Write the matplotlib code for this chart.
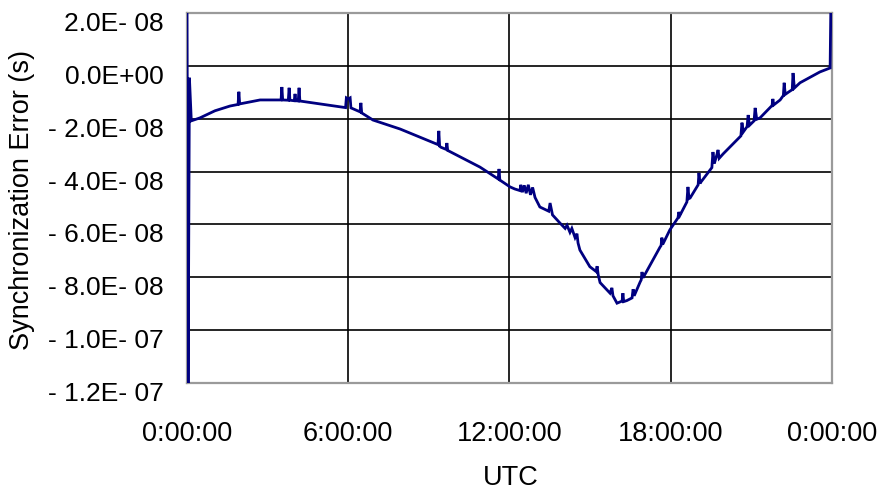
import matplotlib
matplotlib.use("Agg")
import matplotlib.pyplot as plt
import matplotlib.transforms as mtransforms
from matplotlib.ticker import FuncFormatter

plt.rcParams["font.family"] = ["Liberation Sans", "DejaVu Sans"]

# Synchronization error trace over one UTC day (hours, nanoseconds)
time_h = [
    0.00, 0.04, 0.09, 0.16, 0.48, 1.04, 1.60,
    1.90, 1.93, 1.96, 2.16, 2.72,
    3.50, 3.53, 3.56, 3.77, 3.80, 3.83, 3.99, 4.02, 4.05, 4.14, 4.17, 4.20,
    4.95, 5.90, 5.93, 6.00, 6.07, 6.10,
    6.44, 6.47, 6.50, 6.92, 7.93,
    9.34, 9.37, 9.40, 9.45, 9.64, 9.67, 9.70, 10.90,
    11.58, 11.61, 11.64, 12.02, 12.20,
    12.39, 12.42, 12.48, 12.55, 12.62, 12.70, 12.78, 12.86, 12.95,
    13.13, 13.46, 13.51, 13.60, 13.88,
    14.07, 14.14, 14.25, 14.32, 14.44, 14.51, 14.55, 14.62, 14.99,
    15.22, 15.26, 15.30, 15.37, 15.74, 15.81, 15.85, 16.00,
    16.19, 16.22, 16.25, 16.37, 16.56, 16.60, 16.64, 16.86,
    16.90, 16.93, 16.97, 17.23, 17.60, 17.64, 17.67, 17.70, 17.97,
    18.27, 18.30, 18.34, 18.60, 18.64, 18.68, 18.72,
    19.02, 19.05, 19.09, 19.12, 19.46,
    19.53, 19.57, 19.62, 19.72, 19.76, 19.80, 19.95,
    20.57, 20.61, 20.65, 20.70, 20.84, 20.88, 20.93, 21.10, 21.14, 21.20, 21.32,
    21.77, 21.80, 21.83, 22.07, 22.19, 22.22, 22.26, 22.40,
    22.52, 22.55, 22.60, 22.81, 23.55, 23.93, 23.96,
]
error_ns = [
    25.0, -125.0, -4.5, -20.8, -19.7, -17.0, -15.2,
    -14.6, -9.8, -14.4, -14.0, -12.9,
    -12.9, -8.0, -12.9, -13.0, -8.3, -13.0, -13.2, -10.6, -13.2, -13.3, -8.3, -13.3,
    -14.4, -15.8, -12.1, -12.5, -12.1, -15.9,
    -17.4, -14.0, -17.8, -20.5, -23.9,
    -29.8, -24.6, -30.4, -30.8, -31.6, -29.2, -32.0, -38.3,
    -42.8, -39.0, -43.2, -45.8, -46.6,
    -47.2, -45.0, -47.8, -45.2, -48.2, -45.0, -48.8, -46.0, -49.8,
    -53.4, -55.0, -51.9, -56.4, -59.5,
    -61.5, -60.3, -63.0, -61.5, -65.0, -63.5, -67.0, -69.7, -76.0,
    -77.8, -75.8, -79.0, -82.0, -86.0, -84.0, -87.0, -89.8,
    -89.0, -86.0, -89.2, -88.8, -87.8, -84.5, -87.0, -81.8,
    -81.0, -78.0, -80.2, -75.4, -68.6, -68.0, -65.0, -67.6, -62.0,
    -57.5, -55.3, -56.6, -51.5, -45.8, -50.2, -50.0,
    -45.0, -40.5, -44.5, -44.0, -39.4,
    -38.5, -32.6, -37.0, -33.5, -31.8, -35.0, -33.3,
    -26.9, -26.5, -21.5, -25.0, -23.0, -18.6, -22.5, -20.8, -15.9, -20.2, -19.7,
    -15.0, -12.5, -14.8, -12.9, -11.2, -6.4, -10.8, -9.8,
    -9.0, -2.7, -8.4, -6.4, -2.3, -0.8, 25.0,
]

x_ticks = [0, 6, 12, 18, 24]
y_ticks = [2e-8, 0.0, -2e-8, -4e-8, -6e-8, -8e-8, -1e-7, -1.2e-7]
y_min, y_max = -1.2e-7, 2.0e-8


def sci_label(v, pos):
    if abs(v) < 1e-15:
        return "0.0E+00"
    return f"{v:.1E}".replace("-", "- ")


def utc_label(h, pos):
    return f"{int(round(h)) % 24}:00:00"


fig = plt.figure(figsize=(8.79, 4.94), dpi=100)
ax = fig.add_axes([187 / 879, 1 - 383 / 494, 645 / 879, 370 / 494])

ax.plot(time_h, [e * 1e-9 for e in error_ns], color="#000080", lw=2.0,
        solid_joinstyle="miter", zorder=3)

ax.set_xlim(0, 24)
ax.set_ylim(y_min, y_max)
ax.set_xticks(x_ticks)
ax.set_yticks(y_ticks)
ax.xaxis.set_major_formatter(FuncFormatter(utc_label))
ax.yaxis.set_major_formatter(FuncFormatter(sci_label))

ax.grid(True, color="black", lw=1.2)
ax.set_axisbelow(True)
ax.tick_params(axis="both", length=0)
ax.tick_params(axis="y", labelsize=19, pad=17)
ax.tick_params(axis="x", labelsize=19.5, pad=27)

# value labels sit just below their gridline
shift = mtransforms.ScaledTranslation(0, -8.5 / 100, fig.dpi_scale_trans)
for tick in ax.yaxis.get_major_ticks():
    tick.label1.set_transform(tick.label1.get_transform() + shift)

for side in ["top", "right", "bottom", "left"]:
    ax.spines[side].set_color("#9a9a9a")
    ax.spines[side].set_linewidth(1.6)

ax.set_xlabel("UTC", fontsize=19.5, va="center")
ax.xaxis.set_label_coords(0.502, (383 - 478) / 370)
ax.set_ylabel("Synchronization Error (s)", fontsize=19.5, va="center")
ax.yaxis.set_label_coords((22 - 187) / 645, (383 - 200) / 370)

fig.savefig("out.png", dpi=100)
